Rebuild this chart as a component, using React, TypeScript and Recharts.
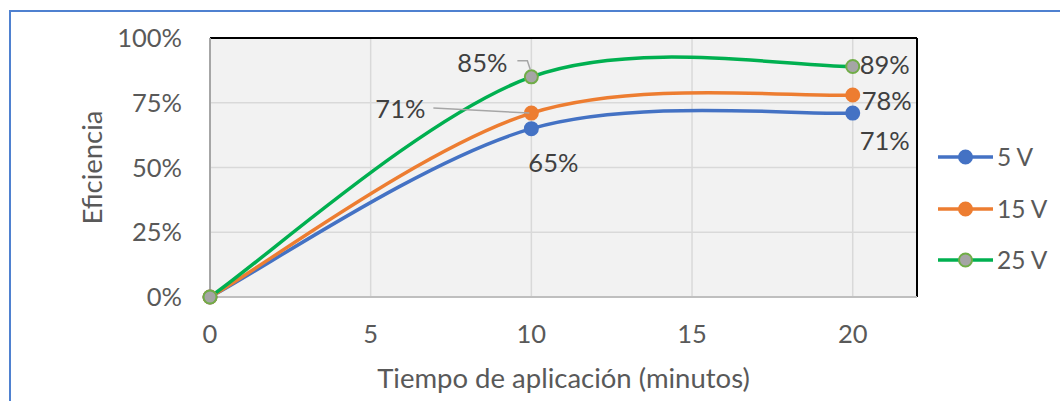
import React from "react";
import {
  CartesianGrid,
  LabelList,
  Line,
  LineChart,
  ReferenceLine,
  XAxis,
  YAxis,
} from "recharts";

// Minutes of application and efficiency per voltage
const minutes = [0, 10, 20];
const eff5V = [0, 0.65, 0.71];
const eff15V = [0, 0.71, 0.78];
const eff25V = [0, 0.85, 0.89];

const xTicks = [0, 5, 10, 15, 20];
const yTicks = [0, 0.25, 0.5, 0.75, 1];

const FONT = "Lato, 'Open Sans', sans-serif";

const data = minutes.map((m, i) => ({
  m,
  v5: eff5V[i],
  v15: eff15V[i],
  v25: eff25V[i],
}));

type Offset = { dx: number; dy: number; leader?: number[][] };

// Smoothed line like a spreadsheet "smooth line": Bezier segments with
// control points at 1/6 of the neighbour chord
const smoothCurve = (context: any) => {
  let pts: number[][] = [];
  return {
    areaStart() {},
    areaEnd() {},
    lineStart() {
      pts = [];
    },
    point(x: number, y: number) {
      pts.push([+x, +y]);
    },
    lineEnd() {
      if (!pts.length) return;
      context.moveTo(pts[0][0], pts[0][1]);
      for (let i = 0; i < pts.length - 1; i++) {
        const p0 = pts[i - 1] || pts[i];
        const p1 = pts[i];
        const p2 = pts[i + 1];
        const p3 = pts[i + 2] || p2;
        context.bezierCurveTo(
          p1[0] + (p2[0] - p0[0]) / 6,
          p1[1] + (p2[1] - p0[1]) / 6,
          p2[0] - (p3[0] - p1[0]) / 6,
          p2[1] - (p3[1] - p1[1]) / 6,
          p2[0],
          p2[1]
        );
      }
    },
  };
};

const pct = (v: number) => `${Math.round(v * 100)}%`;

// label placement relative to each point (index 0 has no label)
const makeLabel = (offsets: Record<number, Offset>) => (props: any) => {
  const { x, y, value, index } = props;
  const o = offsets[index];
  if (!o) return null;
  return (
    <g>
      {o.leader && (
        <polyline
          points={o.leader.map(([lx, ly]) => `${x + lx},${y + ly}`).join(" ")}
          fill="none"
          stroke="#a6a6a6"
          strokeWidth={1.5}
        />
      )}
      <text
        x={x + o.dx}
        y={y + o.dy}
        textAnchor="middle"
        dominantBaseline="central"
        fill="#404040"
        fontSize={25.5}
        fontFamily={FONT}
      >
        {pct(value)}
      </text>
    </g>
  );
};

const series = [
  {
    key: "v5",
    name: "5 V",
    color: "#4472c4",
    dotFill: "#4472c4",
    dotStroke: "#4472c4",
    labels: { 1: { dx: 22, dy: 33 }, 2: { dx: 32, dy: 27 } } as Record<number, Offset>,
  },
  {
    key: "v15",
    name: "15 V",
    color: "#ed7d31",
    dotFill: "#ed7d31",
    dotStroke: "#ed7d31",
    labels: {
      1: { dx: -131, dy: -5, leader: [[-98, -5], [-2, 0]] },
      2: { dx: 34, dy: 5 },
    } as Record<number, Offset>,
  },
  {
    key: "v25",
    name: "25 V",
    color: "#00b050",
    dotFill: "#a5a5a5",
    dotStroke: "#70ad47",
    labels: {
      1: { dx: -49, dy: -15, leader: [[-14, -16], [-4, -16], [-1, -7]] },
      2: { dx: 32, dy: -2 },
    } as Record<number, Offset>,
  },
];

const LegendBox = () => (
  <div style={{ position: "absolute", left: 938, top: 143 }}>
    {series.map((s, i) => (
      <div
        key={s.key}
        style={{
          position: "absolute",
          top: i * 51.5,
          left: 0,
          display: "flex",
          alignItems: "center",
          height: 28,
          whiteSpace: "nowrap",
        }}
      >
        <svg width={56} height={28}>
          <line x1={0} y1={14} x2={55} y2={14} stroke={s.color} strokeWidth={3.5} />
          <circle cx={27.5} cy={14} r={6.5} fill={s.dotFill} stroke={s.dotStroke} strokeWidth={2} />
        </svg>
        <span
          style={{
            fontFamily: FONT,
            fontSize: 24.5,
            color: "#595959",
            marginLeft: 3,
            lineHeight: "28px",
          }}
        >
          {s.name}
        </span>
      </div>
    ))}
  </div>
);

export default function App() {
  return (
    <div
      style={{
        position: "absolute",
        left: 0,
        top: 0,
        width: 1060,
        height: 401,
        background: "#ffffff",
        overflow: "hidden",
      }}
    >
      <div
        style={{
          position: "absolute",
          left: 9,
          top: 10,
          width: 1100,
          height: 420,
          border: "2px solid #4f81d0",
          boxSizing: "border-box",
        }}
      />
      <div style={{ position: "absolute", left: 0, top: 0 }}>
        <LineChart
          width={1060}
          height={401}
          data={data}
          margin={{ top: 38, right: 143, left: 78, bottom: 9 }}
        >
          <CartesianGrid stroke="#d9d9d9" strokeWidth={1.5} fill="#f2f2f2" />
          <XAxis
            dataKey="m"
            type="number"
            domain={[0, 22]}
            ticks={xTicks}
            height={95}
            tickLine={false}
            tickSize={0}
            tickMargin={28}
            axisLine={{ stroke: "#bfbfbf", strokeWidth: 2 }}
            tick={{ fill: "#595959", fontSize: 25.5, fontFamily: FONT }}
            label={{
              value: "Tiempo de aplicación (minutos)",
              position: "insideBottom",
              offset: 4,
              fill: "#595959",
              fontSize: 27.5,
              fontFamily: FONT,
            }}
          />
          <YAxis
            type="number"
            domain={[0, 1]}
            ticks={yTicks}
            width={132}
            tickLine={false}
            tickSize={0}
            tickMargin={28}
            tickFormatter={pct}
            axisLine={{ stroke: "#a6a6a6", strokeWidth: 2 }}
            tick={{ fill: "#595959", fontSize: 25.5, fontFamily: FONT }}
            label={{
              value: "Eficiencia",
              angle: -90,
              position: "insideLeft",
              offset: 14,
              fill: "#595959",
              fontSize: 27.5,
              fontFamily: FONT,
              style: { textAnchor: "middle" },
            }}
          />
          <ReferenceLine y={1} stroke="#000000" strokeWidth={2} />
          <ReferenceLine x={22} stroke="#000000" strokeWidth={2} />
          {series.map((s) => (
            <Line
              key={s.key}
              dataKey={s.key}
              name={s.name}
              type={smoothCurve as any}
              stroke={s.color}
              strokeWidth={3.5}
              dot={{ r: 6.5, fill: s.dotFill, stroke: s.dotStroke, strokeWidth: 2 }}
              activeDot={false}
              isAnimationActive={false}
            >
              <LabelList dataKey={s.key} content={makeLabel(s.labels)} />
            </Line>
          ))}
        </LineChart>
      </div>
      <LegendBox />
    </div>
  );
}
